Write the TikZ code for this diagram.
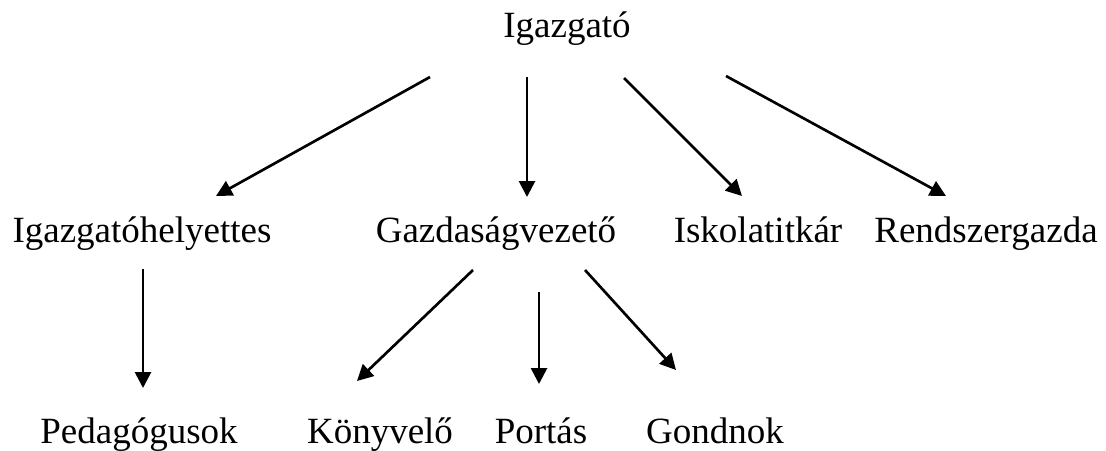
\documentclass[tikz,border=0pt]{standalone}
\usepackage{fontspec}
\setmainfont{Liberation Serif}
\usetikzlibrary{arrows.meta}

\begin{document}
\begin{tikzpicture}[x=0.3pt, y=-0.3pt,
    role/.style={anchor=base, inner sep=0pt, font=\fontsize{11.1}{14}\selectfont},
    arr/.style={line width=0.8pt, -{Triangle[length=4.8pt, width=4.8pt]}}]
    % Frame of the picture
    \useasboundingbox (0,0) rectangle (1106,450);

    % Top
    \node[role] (igazgato) at (567,37) {Igazgató};

    % Second row
    \node[role] (helyettes) at (142,242) {Igazgatóhelyettes};
    \node[role] (gazdasagi) at (496,242) {Gazdaságvezető};
    \node[role] (titkar) at (758,242) {Iskolatitkár};
    \node[role] (rendszer) at (986,242) {Rendszergazda};

    % Bottom row
    \node[role] (pedagogus) at (139,443) {Pedagógusok};
    \node[role] (konyvelo) at (380,443) {Könyvelő};
    \node[role] (portas) at (541,443) {Portás};
    \node[role] (gondnok) at (715,443) {Gondnok};

    % Arrows from the top
    \draw[arr] ([shift={(-137,40)}]igazgato.base) -- ([shift={(74,-46)}]helyettes.base);
    \draw[arr] ([shift={(-40,40)}]igazgato.base) -- ([shift={(31,-45)}]gazdasagi.base);
    \draw[arr] ([shift={(57,41)}]igazgato.base) -- ([shift={(-16,-46)}]titkar.base);
    \draw[arr] ([shift={(159,39)}]igazgato.base) -- ([shift={(-40,-46)}]rendszer.base);

    % Arrows to the bottom row
    \draw[arr] ([shift={(1,27)}]helyettes.base) -- ([shift={(4,-55)}]pedagogus.base);
    \draw[arr] ([shift={(-23,28)}]gazdasagi.base) -- ([shift={(-23,-62)}]konyvelo.base);
    \draw[arr] ([shift={(43,50)}]gazdasagi.base) -- ([shift={(-2,-59)}]portas.base);
    \draw[arr] ([shift={(89,28)}]gazdasagi.base) -- ([shift={(-39,-73)}]gondnok.base);
\end{tikzpicture}
\end{document}
